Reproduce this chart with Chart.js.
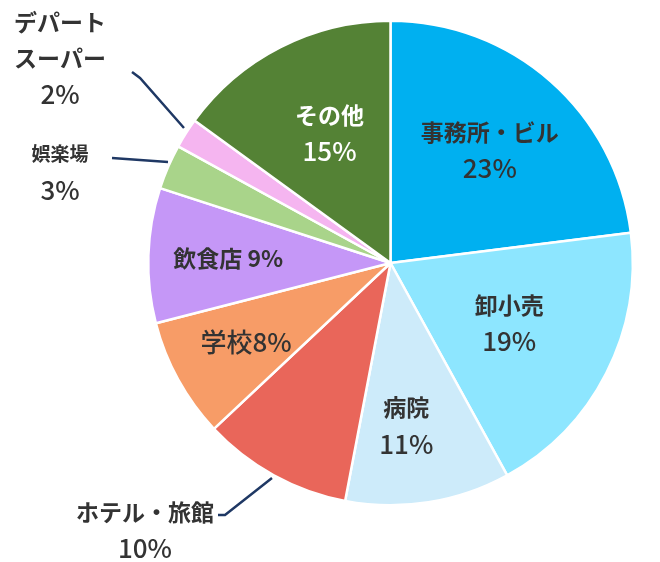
<!DOCTYPE html>
<html><head><meta charset="utf-8">
<script src="https://cdn.jsdelivr.net/npm/chart.js@4/dist/chart.umd.min.js"></script>
<style>html,body{margin:0;background:#fff}#w{width:660px;height:562px}</style>
</head><body><div id="w"><canvas id="c"></canvas></div>
<script>
const categories=["事務所・ビル","卸小売","病院","ホテル・旅館","学校","飲食店","娯楽場","デパート\nスーパー","その他"];
const values=[23,19,11,10,8,9,3,2,15];
const colors=["#00B0F0","#8DE6FF","#CDEBFA","#E9665A","#F79C67","#C597F7","#A9D48A","#F5B5F0","#548235"];
// label layout: [line1, line2, mode, radiusFraction or [x,y], textColor]
const labelSpec=[
 {lines:["事務所・ビル","23%"],r:0.62,col:"#333"},
 {lines:["卸小売","19%"],r:0.55,col:"#333"},
 {lines:["病院","11%"],r:0.68,col:"#333",dx:-10},
 {lines:["ホテル・旅館","10%"],out:[145,530],line:[[272,478],[225,515],[218,515]],col:"#333"},
 {lines:["学校8%"],r:0.68,col:"#333"},
 {lines:["飲食店 9%"],r:0.67,col:"#333"},
 {lines:["娯楽場","3%"],out:[60,172],line:[[168,162],[112,158]],col:"#333",small:true},
 {lines:["デパート","スーパー","2%"],out:[60,58],line:[[184,128],[140,78],[132,72]],col:"#333"},
 {lines:["その他","15%"],r:0.6,col:"#fff",dx:5}
];
const labPlugin={id:'lab',afterDraw(ch){
 const ctx=ch.ctx,meta=ch.getDatasetMeta(0);
 meta.data.forEach((a,i)=>{
  const s=labelSpec[i];ctx.save();
  ctx.fillStyle=s.col;ctx.textAlign='center';ctx.textBaseline='middle';
  let x,y;
  if(s.out){
   ctx.strokeStyle='#1F3864';ctx.lineWidth=2.5;ctx.beginPath();
   ctx.moveTo(s.line[0][0],s.line[0][1]);
   for(let k=1;k<s.line.length;k++)ctx.lineTo(s.line[k][0],s.line[k][1]);
   ctx.stroke();
   [x,y]=s.out;
  }else{
   const m=(a.startAngle+a.endAngle)/2,r=a.outerRadius*s.r;
   x=a.x+Math.cos(m)*r+(s.dx||0);y=a.y+Math.sin(m)*r;
  }
  const n=s.lines.length,lh=36;
  s.lines.forEach((t,k)=>{
   const pct=/%$/.test(t)&&t.length<5;
   ctx.font=(pct?'500 26px':'bold 23px')+' "Noto Sans CJK JP","Noto Sans"';
   if(s.small&&!pct)ctx.font='bold 19px "Noto Sans CJK JP"';
   ctx.fillText(t,x,y+(k-(n-1)/2)*lh);
  });
  ctx.restore();
 });
}};
new Chart(document.getElementById('c'),{type:'pie',
 data:{labels:categories,datasets:[{data:values,backgroundColor:colors,borderColor:'#fff',borderWidth:2.5}]},
 options:{responsive:true,maintainAspectRatio:false,animation:false,
  layout:{padding:{left:147,right:26,top:18,bottom:54}},
  plugins:{legend:{display:false},tooltip:{enabled:false}}},
 plugins:[labPlugin]});
</script></body></html>
